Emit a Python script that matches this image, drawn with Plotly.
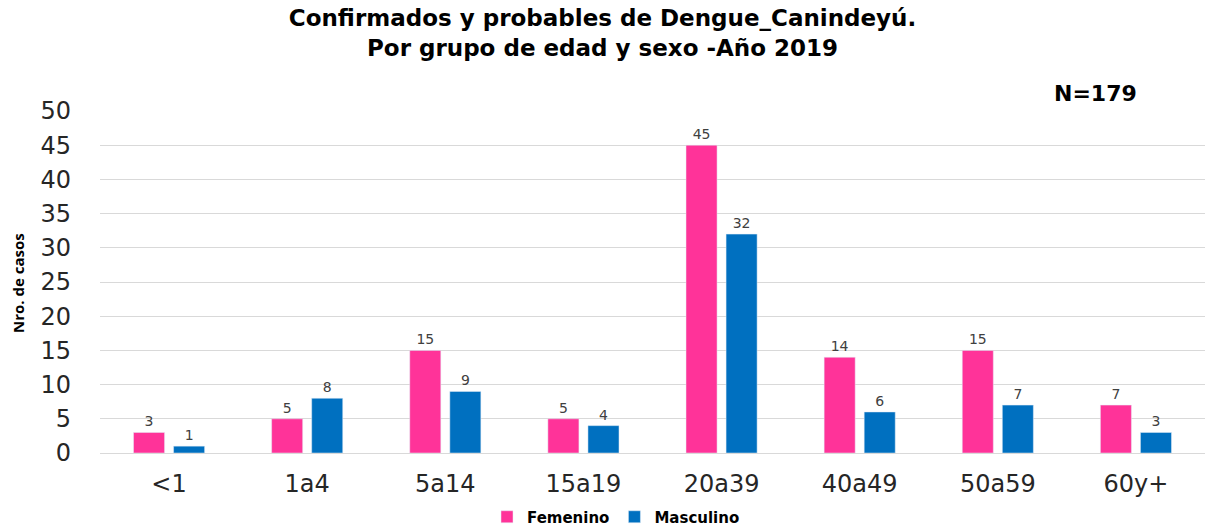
import plotly.graph_objects as go

categories = ["<1", "1a4", "5a14", "15a19", "20a39", "40a49", "50a59", "60y+"]
femenino = [3, 5, 15, 5, 45, 14, 15, 7]
masculino = [1, 8, 9, 4, 32, 6, 7, 3]
y_ticks = [0, 5, 10, 15, 20, 25, 30, 35, 40, 45, 50]

W, H = 1205, 527
L, R, T, B = 100, 0, 111, 74
PW, PH = W - L - R, H - T - B

fig = go.Figure()
fig.add_trace(go.Bar(
    x=categories, y=femenino, name="Femenino",
    marker=dict(color="#FF3399"),
    text=femenino, textposition="outside",
    textfont=dict(family="DejaVu Sans", size=14, color="#404040"),
    cliponaxis=False,
))
fig.add_trace(go.Bar(
    x=categories, y=masculino, name="Masculino",
    marker=dict(color="#0070C0"),
    text=masculino, textposition="outside",
    textfont=dict(family="DejaVu Sans", size=14, color="#404040"),
    cliponaxis=False,
))

fig.update_layout(
    width=W, height=H,
    paper_bgcolor="white", plot_bgcolor="white",
    barmode="group", bargap=0.42, bargroupgap=0.225,
    margin=dict(l=L, r=R, t=T, b=B, autoexpand=False),
    title=dict(
        text="<b>Confirmados y probables de Dengue_Canindeyú.<br>Por grupo de edad y sexo -Año 2019</b>",
        x=0.5, xanchor="center", y=0.951, yanchor="top",
        font=dict(family="DejaVu Sans", size=23, color="black"),
    ),
    xaxis=dict(
        tickfont=dict(family="DejaVu Sans", size=24, color="#262626"),
        showgrid=False, showline=False, ticks="",
        ticklabelstandoff=14, automargin=False,
    ),
    yaxis=dict(
        range=[0, 50], tickvals=y_ticks,
        tickfont=dict(family="DejaVu Sans", size=24, color="#262626"),
        showgrid=True, gridcolor="#d9d9d9", gridwidth=1,
        zeroline=True, zerolinecolor="#d9d9d9", zerolinewidth=1,
        ticks="", ticklabelstandoff=28, automargin=False,
    ),
    showlegend=True,
    legend=dict(
        orientation="h", x=(487 - L) / PW, xanchor="left",
        yref="container", y=(H - 517) / H, yanchor="middle",
        font=dict(family="DejaVu Sans", size=15, color="black", weight="bold"),
        itemwidth=30,
    ),
    annotations=[
        dict(
            text="<b>N=179</b>", x=(1095 - L) / PW, y=(T + PH - 93) / PH,
            xref="paper", yref="paper",
            showarrow=False, xanchor="center", yanchor="middle",
            font=dict(family="DejaVu Sans", size=22, color="black"),
        ),
        dict(
            text="<b>Nro. de casos</b>", x=(18 - L) / PW, y=(T + PH - 283) / PH,
            xref="paper", yref="paper", textangle=-90,
            showarrow=False, xanchor="center", yanchor="middle",
            font=dict(family="Open Sans", size=15, color="black"),
        ),
    ],
)

fig.write_html("out.html", config={"displayModeBar": False},
               post_script="document.body.style.margin='0px';")
